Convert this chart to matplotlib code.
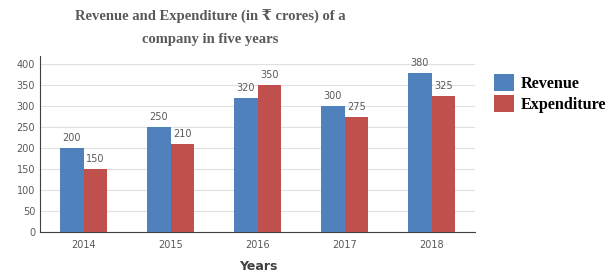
import matplotlib
matplotlib.use("Agg")
import matplotlib.pyplot as plt
import numpy as np

years = ["2014", "2015", "2016", "2017", "2018"]
revenue = [200, 250, 320, 300, 380]
expenditure = [150, 210, 350, 275, 325]
y_ticks = [0, 50, 100, 150, 200, 250, 300, 350, 400]

BLUE = "#4F81BD"
RED = "#C0504D"
GRAY = "#595959"

fig = plt.figure(figsize=(6.13, 2.72), dpi=100)
ax = fig.add_axes([40 / 613, 1 - 232 / 272, 435 / 613, 176 / 272])

x = np.arange(len(years))
w = 0.27
b1 = ax.bar(x - w / 2, revenue, w, color=BLUE, label="Revenue", zorder=3)
b2 = ax.bar(x + w / 2, expenditure, w, color=RED, label="Expenditure", zorder=3)

for bars, vals in ((b1, revenue), (b2, expenditure)):
    for rect, v in zip(bars, vals):
        ax.text(rect.get_x() + rect.get_width() / 2, v + 12, str(v),
                ha="center", va="bottom", fontsize=7, color=GRAY)

ax.set_xlim(-0.5, len(years) - 0.5)
ax.set_ylim(0, 420)
ax.set_yticks(y_ticks)
ax.set_xticks(x)
ax.set_xticklabels(years)
ax.tick_params(axis="both", labelsize=7, colors=GRAY, length=0)
ax.tick_params(axis="x", pad=6)
ax.grid(axis="y", color="#e0e0e0", linewidth=0.8, zorder=0)
for s in ("top", "right"):
    ax.spines[s].set_visible(False)
ax.spines["left"].set_color("#404040")
ax.spines["bottom"].set_color("#404040")

title_font = ["Liberation Serif", "DejaVu Serif"]
fig.text(210 / 613, 1 - 17 / 272, "Revenue and Expenditure (in \u20b9 crores) of a",
         ha="center", va="center", fontsize=10.5, fontweight="bold",
         family=title_font, color=GRAY)
fig.text(210 / 613, 1 - 40 / 272, "company in five years",
         ha="center", va="center", fontsize=10.5, fontweight="bold",
         family=title_font, color=GRAY)
fig.text(258 / 613, 1 - 267 / 272, "Years", ha="center", va="center",
         fontsize=9, fontweight="bold", color="#404040")

leg = fig.legend(handles=[b1, b2], loc="upper left", bbox_to_anchor=(494 / 613, 1 - 74 / 272),
                 frameon=False, prop={"family": "Liberation Serif", "weight": "bold", "size": 11.6},
                 handlelength=1.25, handleheight=1.25, handletextpad=0.4, labelspacing=0.2,
                 borderaxespad=0, borderpad=0)

fig.savefig("out.png", dpi=100, facecolor="white")
